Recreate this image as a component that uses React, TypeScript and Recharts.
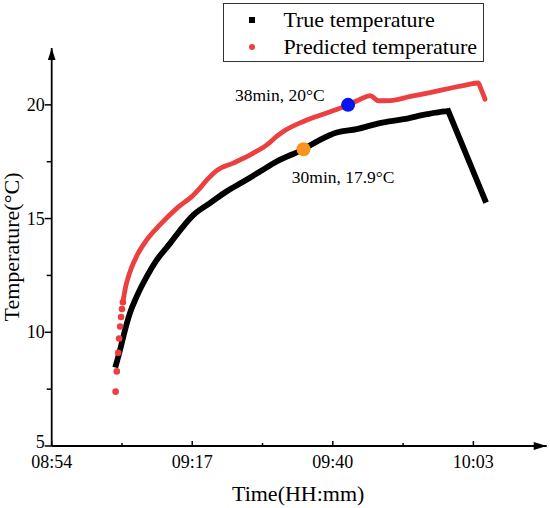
import React from 'react';
import { ComposedChart, Line, Scatter, XAxis, YAxis, Legend, ReferenceDot } from 'recharts';

const FONT = "'Liberation Serif', 'Times New Roman', serif";

// time in minutes since midnight
const trueTime = [544.4, 544.9, 545.46, 546.0, 546.8, 547.9, 549.55, 551.2, 553.4, 555.5, 557.2, 559.9, 562.6, 565.4, 568.1, 570.8, 575.2, 577.9, 580.65, 583.9, 587.7, 591.6, 595.4, 598.4, 598.9, 601.4, 603.3, 604.9];
const trueTemp = [8.45, 8.93, 9.52, 10.1, 10.84, 11.57, 12.45, 13.18, 13.92, 14.65, 15.16, 15.68, 16.19, 16.63, 17.07, 17.51, 18.05, 18.46, 18.78, 18.93, 19.2, 19.37, 19.59, 19.71, 19.72, 18.1, 16.86, 15.82];
const truePeakIndex = 24; // heating stops here, the curve then falls in a straight run

const predTime = [544.46, 544.65, 544.88, 545.03, 545.2, 545.35, 545.5, 545.65, 545.85, 546.1, 546.5, 547.0, 547.9, 549.55, 551.7, 554.5, 557.2, 558.0, 559.4, 561.0, 563.7, 567.0, 569.2, 570.8, 571.9, 575.2, 579.0, 582.5, 584.5, 586.1, 587.5, 589.4, 592.7, 595.9, 599.2, 601.9, 603.8, 604.2, 604.9];
const predTemp = [7.39, 8.28, 9.1, 9.73, 10.25, 10.67, 11.02, 11.32, 11.64, 12.0, 12.4, 12.8, 13.35, 14.06, 14.72, 15.46, 16.04, 16.26, 16.7, 17.11, 17.44, 17.88, 18.24, 18.61, 18.83, 19.27, 19.64, 20.0, 20.25, 20.41, 20.18, 20.19, 20.37, 20.54, 20.73, 20.88, 20.96, 20.73, 20.25];
const predDotCount = 8; // early samples drawn as separate dots

const markTime = [575.2, 582.5];
const markTemp = [18.05, 20.0];
const markText = ['30min, 17.9°C', '38min, 20°C'];
const markColor = ['#f7931e', '#0a14f0'];

const seriesNames = ['True temperature', 'Predicted temperature'];

const xMajor = [534, 557, 580, 603];
const xTicks = [534, 545.5, 557, 568.5, 580, 591.5, 603];
const xDomain = [534, 615];
const yMajor = [5, 10, 15, 20];
const yTicks = [5, 7.5, 10, 12.5, 15, 17.5, 20];
const yDomain = [5, 22.5];

const RED = '#ec4040';

const trueData = trueTime.map((t, i) => ({ t, temp: trueTemp[i] }));
const trueRise = trueData.slice(0, truePeakIndex + 1);
const trueFall = trueData.slice(truePeakIndex);
const predData = predTime.map((t, i) => ({ t, temp: predTemp[i] }));
const predDots = predData.slice(0, predDotCount);
const predLine = predData.slice(predDotCount - 1);
const markData = markTime.map((t, i) => ({ t, temp: markTemp[i], text: markText[i], color: markColor[i], idx: i }));

const fmt = (v: number) => {
  const h = Math.floor(v / 60);
  const m = Math.round(v - h * 60);
  return `${String(h).padStart(2, '0')}:${String(m).padStart(2, '0')}`;
};

const XTick = (props: any) => {
  const { x, y, payload } = props;
  const major = xMajor.includes(payload.value);
  return (
    <g>
      <line x1={x} x2={x} y1={y} y2={y - (major ? 5 : 3)} stroke="#000" strokeWidth={1.5} />
      {major && (
        <text x={x} y={y + 21.5} textAnchor="middle" fontSize={18} fontFamily={FONT} fill="#000">
          {fmt(payload.value)}
        </text>
      )}
    </g>
  );
};

const YTick = (props: any) => {
  const { x, y, payload } = props;
  const major = yMajor.includes(payload.value);
  const isBottom = payload.value === yDomain[0];
  return (
    <g>
      <line x1={x} x2={x - (major ? 7 : 5)} y1={y} y2={y} stroke="#000" strokeWidth={1.5} />
      {major && (
        <text x={x - 7} y={y + (isBottom ? 2 : 6)} textAnchor="end" fontSize={18} fontFamily={FONT} fill="#000">
          {payload.value}
        </text>
      )}
    </g>
  );
};

const MarkShape = (props: any) => {
  const { cx, cy, payload } = props;
  if (cx == null || cy == null) return null;
  const first = payload.idx === 0;
  return (
    <g>
      <circle cx={cx} cy={cy} r={7} fill={payload.color} />
      <text
        x={first ? cx - 11.7 : cx - 23.5}
        y={first ? cy + 33.3 : cy - 4.3}
        textAnchor={first ? 'start' : 'end'}
        fontSize={17.5}
        fontFamily={FONT}
        fill="#000"
      >
        {payload.text}
      </text>
    </g>
  );
};

const RedDot = (props: any) => {
  const { cx, cy } = props;
  if (cx == null || cy == null) return null;
  return <circle cx={cx} cy={cy} r={3.3} fill={RED} />;
};

const ArrowRight = (props: any) => {
  const { cx, cy } = props;
  return <polygon points={`${cx},${cy} ${cx - 13},${cy - 4} ${cx - 13},${cy + 4}`} fill="#000" />;
};
const ArrowUp = (props: any) => {
  const { cx, cy } = props;
  return <polygon points={`${cx},${cy} ${cx - 3.8},${cy + 12} ${cx + 3.8},${cy + 12}`} fill="#000" />;
};

const LegendBox = (props: any) => {
  const items = (props.payload || [])
    .filter((p: any) => seriesNames.includes(p.value))
    .sort((a: any, b: any) => seriesNames.indexOf(a.value) - seriesNames.indexOf(b.value));
  return (
    <div
      style={{
        width: 261,
        height: 59,
        border: '1px solid #333',
        boxSizing: 'border-box',
        position: 'relative',
        background: '#fff',
        fontFamily: FONT,
        fontSize: 22,
        color: '#000',
      }}
    >
      {items.map((it: any, i: number) => {
        const cyRow = 15.4 + i * 27;
        const isSquare = it.value === seriesNames[0];
        return (
          <React.Fragment key={i}>
            <div
              style={{
                position: 'absolute',
                left: 25,
                top: cyRow - 3,
                width: 6,
                height: 6,
                background: isSquare ? '#000' : RED,
                borderRadius: isSquare ? 0 : 3,
              }}
            />
            <div style={{ position: 'absolute', left: 59.7, top: cyRow - 11, lineHeight: '22px', whiteSpace: 'nowrap' }}>
              {it.value}
            </div>
          </React.Fragment>
        );
      })}
    </div>
  );
};

export default function App() {
  return (
    <div style={{ position: 'absolute', left: 0, top: 0, width: 550, height: 508, background: '#fff' }}>
      <ComposedChart width={550} height={508} margin={{ top: 48, right: 3.3, bottom: 32, left: 0 }}>
        <XAxis
          type="number"
          dataKey="t"
          domain={xDomain}
          ticks={xTicks}
          interval={0}
          allowDataOverflow
          height={30}
          tickSize={0}
          tickMargin={0}
          tickLine={false}
          tick={<XTick />}
          axisLine={{ stroke: '#000', strokeWidth: 1.8 }}
          label={{
            content: (p: any) => {
              const vb = p.viewBox || {};
              return (
                <text x={vb.x + vb.width / 2 - 1} y={vb.y + 55} textAnchor="middle" fontSize={22} fontFamily={FONT} fill="#000">
                  Time(HH:mm)
                </text>
              );
            },
          }}
        />
        <YAxis
          type="number"
          dataKey="temp"
          domain={yDomain}
          ticks={yTicks}
          interval={0}
          allowDataOverflow
          width={51.7}
          tickSize={0}
          tickMargin={0}
          tickLine={false}
          tick={<YTick />}
          axisLine={{ stroke: '#000', strokeWidth: 1.8 }}
          label={{
            content: (p: any) => {
              const vb = p.viewBox || {};
              const x = vb.x + 18.5;
              const y = vb.y + vb.height / 2;
              return (
                <text x={x} y={y} transform={`rotate(-90, ${x}, ${y})`} textAnchor="middle" fontSize={22} fontFamily={FONT} fill="#000">
                  Temperature(°C)
                </text>
              );
            },
          }}
        />
        <Legend
          layout="horizontal"
          verticalAlign="middle"
          align="center"
          wrapperStyle={{ position: 'absolute', left: 222.7, top: 3.3, width: 261, height: 59 }}
          content={<LegendBox />}
        />
        <Line
          data={trueRise}
          dataKey="temp"
          name={seriesNames[0]}
          type="monotone"
          stroke="#000"
          strokeWidth={5.8}
          strokeLinejoin="miter"
          strokeLinecap="butt"
          dot={false}
          activeDot={false}
          isAnimationActive={false}
        />
        <Line
          data={trueFall}
          dataKey="temp"
          name="true-fall"
          legendType="none"
          type="linear"
          stroke="#000"
          strokeWidth={5.8}
          strokeLinejoin="miter"
          strokeLinecap="square"
          dot={false}
          activeDot={false}
          isAnimationActive={false}
        />
        <Line
          data={predLine}
          dataKey="temp"
          name={seriesNames[1]}
          type="monotone"
          stroke={RED}
          strokeWidth={4.8}
          strokeLinejoin="round"
          strokeLinecap="round"
          dot={false}
          activeDot={false}
          isAnimationActive={false}
        />
        <Scatter data={predDots} dataKey="temp" legendType="none" shape={<RedDot />} isAnimationActive={false} />
        <Scatter data={markData} dataKey="temp" legendType="none" shape={<MarkShape />} isAnimationActive={false} />
        <ReferenceDot x={xDomain[1]} y={yDomain[0]} r={0} shape={<ArrowRight />} />
        <ReferenceDot x={xDomain[0]} y={yDomain[1]} r={0} shape={<ArrowUp />} />
      </ComposedChart>
    </div>
  );
}
